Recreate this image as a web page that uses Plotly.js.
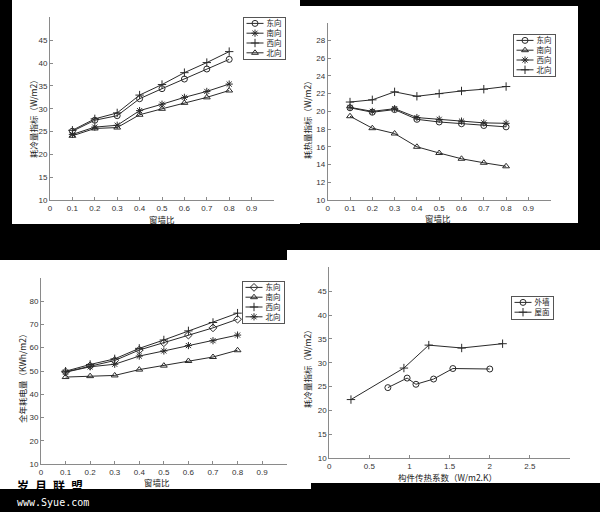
<!DOCTYPE html>
<html>
<head>
<meta charset="utf-8">
<script src="https://cdn.plot.ly/plotly-3.0.1.min.js"></script>
<style>
  html, body { margin: 0; padding: 0; background: #000; }
  #chart { width: 600px; height: 512px; }
</style>
</head>
<body>
<div id="chart"></div>
<script>
// ---------------- DATA ----------------
const wwr = [0.1, 0.2, 0.3, 0.4, 0.5, 0.6, 0.7, 0.8];
const dirNames = ["东向", "南向", "西向", "北向"];

// Top-left: 耗冷量指标 (W/m2)
const coolEast  = [25.1, 27.5, 28.5, 32.2, 34.4, 36.5, 38.7, 40.8];
const coolSouth = [24.4, 26.0, 26.4, 29.6, 31.0, 32.5, 33.8, 35.4];
const coolWest  = [25.3, 27.8, 29.1, 33.0, 35.3, 37.9, 40.1, 42.5];
const coolNorth = [24.1, 25.7, 25.9, 28.7, 30.0, 31.3, 32.5, 34.0];

// Top-right: 耗热量指标 (W/m2)
const heatEast  = [20.4, 19.9, 20.2, 19.1, 18.8, 18.6, 18.4, 18.25];
const heatSouth = [19.45, 18.1, 17.5, 16.0, 15.3, 14.65, 14.2, 13.8];
const heatWest  = [20.45, 20.0, 20.3, 19.3, 19.1, 18.9, 18.7, 18.65];
const heatNorth = [21.05, 21.3, 22.2, 21.7, 22.0, 22.3, 22.5, 22.8];

// Bottom-left: 全年耗电量 (KWh/m2)
const elecEast  = [49.6, 52.2, 54.5, 59.0, 62.1, 65.4, 68.5, 72.2];
const elecSouth = [47.4, 47.8, 48.1, 50.6, 52.3, 54.3, 56.0, 58.9];
const elecWest  = [49.9, 52.8, 55.2, 59.7, 63.3, 67.2, 70.8, 74.8];
const elecNorth = [49.5, 51.8, 52.9, 56.4, 58.6, 60.9, 63.0, 65.4];

// Bottom-right: 构件传热系数 vs 耗冷量指标
const wallNames = ["外墙", "屋面"];
const wallK    = [0.73, 0.97, 1.08, 1.30, 1.54, 2.00];
const wallCool = [24.8, 26.8, 25.5, 26.6, 28.8, 28.7];
const roofK    = [0.27, 0.93, 1.24, 1.65, 2.16];
const roofCool = [22.3, 28.9, 33.7, 33.1, 34.0];

// tick labels
const wwrTicks = [0, 0.1, 0.2, 0.3, 0.4, 0.5, 0.6, 0.7, 0.8, 0.9];
const kTicks = [0, 0.5, 1, 1.5, 2, 2.5];
const coolTicks = [10, 15, 20, 25, 30, 35, 40, 45];
const heatTicks = [10, 12, 14, 16, 18, 20, 22, 24, 26, 28];
const elecTicks = [10, 20, 30, 40, 50, 60, 70, 80];

// ---------------- HELPERS ----------------
const W = 600, H = 512;
const px = x => x / W;
const py = y => 1 - y / H;
const CJK = "Noto Sans CJK SC, sans-serif";
const INK = "#2a2a2a";

function tr(x, y, name, symbol, xa, ya, legend) {
  return {
    x: x, y: y, name: name, type: "scatter", mode: "lines+markers",
    xaxis: xa, yaxis: ya, legend: legend,
    line: { color: INK, width: 1 },
    marker: { symbol: symbol, size: 6, color: INK, line: { color: INK, width: 1 } },
    hoverinfo: "skip"
  };
}

function axis(domain, range, tickvals, anchor) {
  return {
    domain: domain, range: range, tickvals: tickvals, anchor: anchor,
    showline: true, linecolor: "#8a8a8a", linewidth: 1,
    ticks: "inside", ticklen: 3, tickcolor: "#8a8a8a", tickwidth: 1,
    showgrid: false, zeroline: false, fixedrange: true,
    tickfont: { family: "Liberation Sans, Arial, sans-serif", size: 8, color: "#333" }
  };
}

const traces = [
  tr(wwr, coolEast,  dirNames[0], "circle-open",      "x",  "y",  "legend"),
  tr(wwr, coolSouth, dirNames[1], "asterisk-open",    "x",  "y",  "legend"),
  tr(wwr, coolWest,  dirNames[2], "cross-thin-open",  "x",  "y",  "legend"),
  tr(wwr, coolNorth, dirNames[3], "triangle-up-open", "x",  "y",  "legend"),

  tr(wwr, heatEast,  dirNames[0], "circle-open",      "x2", "y2", "legend2"),
  tr(wwr, heatSouth, dirNames[1], "triangle-up-open", "x2", "y2", "legend2"),
  tr(wwr, heatWest,  dirNames[2], "asterisk-open",    "x2", "y2", "legend2"),
  tr(wwr, heatNorth, dirNames[3], "cross-thin-open",  "x2", "y2", "legend2"),

  tr(wwr, elecEast,  dirNames[0], "diamond-open",     "x3", "y3", "legend3"),
  tr(wwr, elecSouth, dirNames[1], "triangle-up-open", "x3", "y3", "legend3"),
  tr(wwr, elecWest,  dirNames[2], "cross-thin-open",  "x3", "y3", "legend3"),
  tr(wwr, elecNorth, dirNames[3], "asterisk-open",    "x3", "y3", "legend3"),

  tr(wallK, wallCool, wallNames[0], "circle-open",     "x4", "y4", "legend4"),
  tr(roofK, roofCool, wallNames[1], "cross-thin-open", "x4", "y4", "legend4")
];

function legendAt(left, top) {
  return {
    x: px(left), y: py(top), xanchor: "left", yanchor: "top",
    bgcolor: "#fff", bordercolor: "#555", borderwidth: 1,
    font: { family: CJK, size: 7.5, color: "#222" },
    itemclick: false, itemdoubleclick: false, tracegroupgap: 0
  };
}

function note(text, x, y, angle, size) {
  return {
    text: text, xref: "paper", yref: "paper", x: px(x), y: py(y),
    xanchor: "center", yanchor: "middle", showarrow: false,
    textangle: angle || 0, borderpad: 0,
    font: { family: CJK, size: size || 8.5, color: "#222" }
  };
}

function whiteRect(x0, y0, x1, y1) {
  return {
    type: "rect", xref: "paper", yref: "paper", layer: "below",
    x0: px(x0), x1: px(x1), y0: py(y1), y1: py(y0),
    fillcolor: "#fff", line: { width: 0 }
  };
}

const layout = {
  width: W, height: H,
  margin: { l: 0, r: 0, t: 0, b: 0, pad: 0 },
  paper_bgcolor: "#000",
  plot_bgcolor: "#fff",
  showlegend: true,
  xaxis:  axis([px(50), px(274)],    [0, 1],  wwrTicks, "y"),
  yaxis:  axis([py(200.3), py(17.3)], [10, 50], coolTicks, "x"),
  xaxis2: axis([px(327.7), px(550.7)], [0, 1], wwrTicks, "y2"),
  yaxis2: axis([py(200), py(22.7)],   [10, 30], heatTicks, "x2"),
  xaxis3: axis([px(41), px(286.7)],   [0, 1],  wwrTicks, "y3"),
  yaxis3: axis([py(464.3), py(277.7)], [10, 90], elecTicks, "x3"),
  xaxis4: axis([px(329.3), px(570)],  [0, 3],  kTicks, "y4"),
  yaxis4: axis([py(458.3), py(267.3)], [10, 50], coolTicks, "x4"),
  legend:  legendAt(243, 17),
  legend2: legendAt(513, 34),
  legend3: legendAt(242, 281),
  legend4: legendAt(511, 296),
  shapes: [
    whiteRect(12, 0, 300, 224),
    whiteRect(300, 6, 578, 223),
    whiteRect(0, 260, 311, 489),
    whiteRect(287, 250, 600, 483)
  ],
  annotations: [
    note("耗冷量指标（W/m2）", 33, 117, -90),
    note("窗墙比", 162, 218.5),
    note("耗热量指标（W/m2）", 307, 118, -90),
    note("窗墙比", 438, 218),
    note("全年耗电量（KWh/m2）", 22, 377, -90),
    note("窗墙比", 157, 482),
    note("耗冷量指标（W/m2）", 307, 367, -90),
    note("构件传热系数（W/m2.K）", 447, 476.5),
    {
      text: "<b>岁\u2002月\u2002联\u2002盟</b>", xref: "paper", yref: "paper",
      x: px(50), y: py(485), xanchor: "center", yanchor: "middle", showarrow: false,
      borderpad: 0,
      font: { family: CJK, size: 12, color: "#000" }
    },
    {
      text: "www.Syue.com", xref: "paper", yref: "paper",
      x: px(15), y: py(502), xanchor: "left", yanchor: "middle", showarrow: false,
      font: { family: "DejaVu Sans Mono, monospace", size: 10, color: "#fff" }
    }
  ]
};

// Make the legends compact, like the small MATLAB legend boxes.
function tightenLegends(gd) {
  const groups = gd.querySelectorAll("g.infolayer > g");
  groups.forEach(function (g) {
    try {
      const cls = (g.getAttribute("class") || "").trim();
      if (!/^legend\d*$/.test(cls)) return;
      const items = g.querySelectorAll("g.traces");
      if (!items.length) return;
      const rowH = 9.8, pad = 1, lineL = 3, lineW = 17, gap = 3;
      let maxW = 0;
      items.forEach(function (it, i) {
        it.setAttribute("transform", "translate(0.5," + (pad + rowH / 2 + i * rowH + 0.5) + ")");
        it.querySelectorAll("path.js-line").forEach(function (p) {
          p.setAttribute("d", "M" + lineL + ",0h" + lineW);
        });
        it.querySelectorAll("path.scatterpts").forEach(function (p) {
          p.setAttribute("transform", "translate(" + (lineL + lineW / 2) + ",0)");
        });
        const t = it.querySelector("text");
        if (t) {
          t.setAttribute("x", lineL + lineW + gap);
          t.querySelectorAll("tspan").forEach(function (s) {
            if (s.hasAttribute("x")) s.setAttribute("x", lineL + lineW + gap);
          });
          const bw = t.getBBox().width;
          maxW = Math.max(maxW, bw > 0 ? bw : 15);
        }
        it.querySelectorAll("rect").forEach(function (r) {
          r.setAttribute("width", 1); r.setAttribute("height", 1);
        });
      });
      const bg = g.querySelector(":scope > rect.bg");
      if (bg) {
        bg.setAttribute("width", lineL + lineW + gap + maxW + 4);
        bg.setAttribute("height", items.length * rowH + 2 * pad + 1);
      }
    } catch (e) { /* keep default legend if anything fails */ }
  });
}

Plotly.newPlot("chart", traces, layout, { staticPlot: true, displayModeBar: false })
  .then(function (gd) {
    tightenLegends(gd);
    gd.on && gd.on("plotly_afterplot", function () { tightenLegends(gd); });
    [50, 200, 600, 1200].forEach(function (ms) {
      setTimeout(function () { tightenLegends(gd); }, ms);
    });
  });
</script>
</body>
</html>
